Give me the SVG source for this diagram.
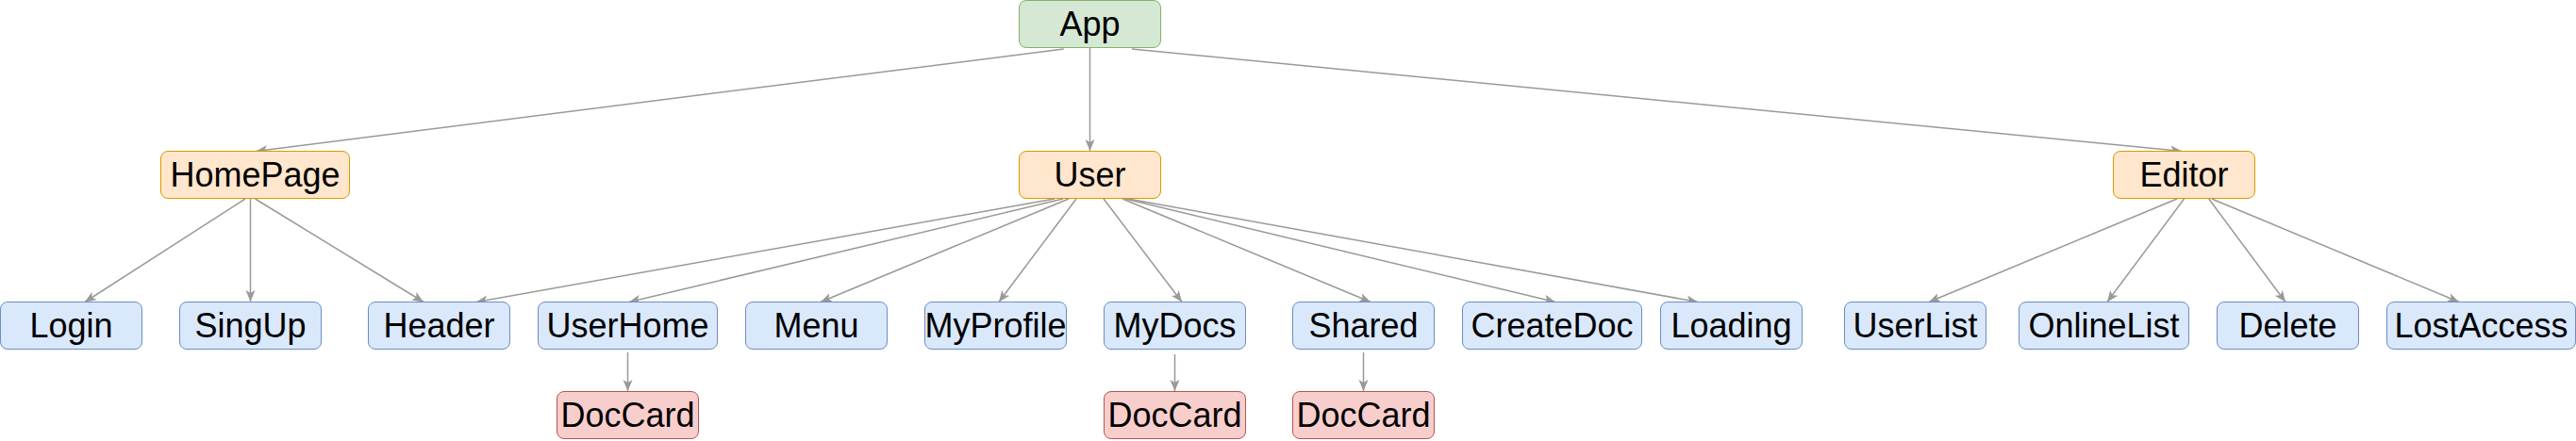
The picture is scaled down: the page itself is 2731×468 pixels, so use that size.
<svg xmlns="http://www.w3.org/2000/svg" width="2731" height="468" viewBox="0 0 2731 468">
<defs>
<marker id="arr" markerUnits="userSpaceOnUse" markerWidth="13" markerHeight="11" viewBox="0 0 13 11" refX="12" refY="5.5" orient="auto">
<path d="M0,0.5 L12,5.5 L0,10.5 L3,5.5 Z" fill="#999999"/>
</marker>
<style>
.e{stroke:#999999;stroke-width:1.5;fill:none;marker-end:url(#arr)}
rect{stroke-width:1}
.g{fill:#d5e8d4;stroke:#82b366}
.o{fill:#ffe6cc;stroke:#d79b00}
.b{fill:#dae8fc;stroke:#6c8ebf}
.r{fill:#f8cecc;stroke:#b85450}
text{font-family:"Liberation Sans",Arial,Helvetica,sans-serif;font-size:36px;fill:#000000;text-anchor:middle}
</style>
</defs>
<g id="connectors">
<line class="e" x1="1155.5" y1="51" x2="1155.5" y2="160"/>
<line class="e" x1="1127.7" y1="52" x2="271.5" y2="160.5"/>
<line class="e" x1="1200" y1="52" x2="2313" y2="160.5"/>
<line class="e" x1="260" y1="211" x2="90" y2="320.5"/>
<line class="e" x1="265.5" y1="211" x2="265.5" y2="320"/>
<line class="e" x1="270.5" y1="211" x2="449" y2="320.5"/>
<line class="e" x1="1118" y1="211" x2="505" y2="320.5"/>
<line class="e" x1="1127" y1="211" x2="667" y2="320.5"/>
<line class="e" x1="1133" y1="211" x2="870" y2="320.5"/>
<line class="e" x1="1141" y1="211" x2="1059" y2="320.5"/>
<line class="e" x1="1170" y1="211" x2="1253" y2="320.5"/>
<line class="e" x1="1190" y1="211" x2="1453" y2="320.5"/>
<line class="e" x1="1193" y1="211" x2="1649" y2="320.5"/>
<line class="e" x1="1196" y1="211" x2="1800" y2="320.5"/>
<line class="e" x1="2308" y1="211" x2="2045" y2="320.5"/>
<line class="e" x1="2315.5" y1="211" x2="2234" y2="320.5"/>
<line class="e" x1="2341.7" y1="211" x2="2423" y2="320.5"/>
<line class="e" x1="2344.8" y1="211" x2="2607" y2="320.5"/>
<line class="e" x1="665.5" y1="374" x2="665.5" y2="415"/>
<line class="e" x1="1245.5" y1="376" x2="1245.5" y2="415"/>
<line class="e" x1="1445.5" y1="374" x2="1445.5" y2="415"/>
</g>
<g id="app"><rect class="g" x="1080.5" y="0.5" width="150" height="50" rx="7.5"/><text x="1155.5" y="37.5">App</text></g>
<g id="homepage"><rect class="o" x="170.5" y="160.5" width="200" height="50" rx="7.5"/><text x="270.5" y="197.7">HomePage</text></g>
<g id="user"><rect class="o" x="1080.5" y="160.5" width="150" height="50" rx="7.5"/><text x="1155.5" y="197.7">User</text></g>
<g id="editor"><rect class="o" x="2240.5" y="160.5" width="150" height="50" rx="7.5"/><text x="2315.5" y="197.7">Editor</text></g>
<g id="login"><rect class="b" x="0.5" y="320.5" width="150" height="50" rx="7.5"/><text x="75.5" y="357.7">Login</text></g>
<g id="singup"><rect class="b" x="190.5" y="320.5" width="150" height="50" rx="7.5"/><text x="265.5" y="357.7">SingUp</text></g>
<g id="header"><rect class="b" x="390.5" y="320.5" width="150" height="50" rx="7.5"/><text x="465.5" y="357.7">Header</text></g>
<g id="userhome"><rect class="b" x="570.5" y="320.5" width="190" height="50" rx="7.5"/><text x="665.5" y="357.7">UserHome</text></g>
<g id="menu"><rect class="b" x="790.5" y="320.5" width="150" height="50" rx="7.5"/><text x="865.5" y="357.7">Menu</text></g>
<g id="myprofile"><rect class="b" x="980.5" y="320.5" width="150" height="50" rx="7.5"/><text x="1055.5" y="357.7">MyProfile</text></g>
<g id="mydocs"><rect class="b" x="1170.5" y="320.5" width="150" height="50" rx="7.5"/><text x="1245.5" y="357.7">MyDocs</text></g>
<g id="shared"><rect class="b" x="1370.5" y="320.5" width="150" height="50" rx="7.5"/><text x="1445.5" y="357.7">Shared</text></g>
<g id="createdoc"><rect class="b" x="1550.5" y="320.5" width="190" height="50" rx="7.5"/><text x="1645.5" y="357.7">CreateDoc</text></g>
<g id="loading"><rect class="b" x="1760.5" y="320.5" width="150" height="50" rx="7.5"/><text x="1835.5" y="357.7">Loading</text></g>
<g id="userlist"><rect class="b" x="1955.5" y="320.5" width="150" height="50" rx="7.5"/><text x="2030.5" y="357.7">UserList</text></g>
<g id="onlinelist"><rect class="b" x="2140.5" y="320.5" width="180" height="50" rx="7.5"/><text x="2230.5" y="357.7">OnlineList</text></g>
<g id="delete"><rect class="b" x="2350.5" y="320.5" width="150" height="50" rx="7.5"/><text x="2425.5" y="357.7">Delete</text></g>
<g id="lostaccess"><rect class="b" x="2530.5" y="320.5" width="200" height="50" rx="7.5"/><text x="2630.5" y="357.7">LostAccess</text></g>
<g id="doccard-userhome"><rect class="r" x="590.5" y="415.5" width="150" height="50" rx="7.5"/><text x="665.5" y="452.7">DocCard</text></g>
<g id="doccard-mydocs"><rect class="r" x="1170.5" y="415.5" width="150" height="50" rx="7.5"/><text x="1245.5" y="452.7">DocCard</text></g>
<g id="doccard-shared"><rect class="r" x="1370.5" y="415.5" width="150" height="50" rx="7.5"/><text x="1445.5" y="452.7">DocCard</text></g>
</svg>
